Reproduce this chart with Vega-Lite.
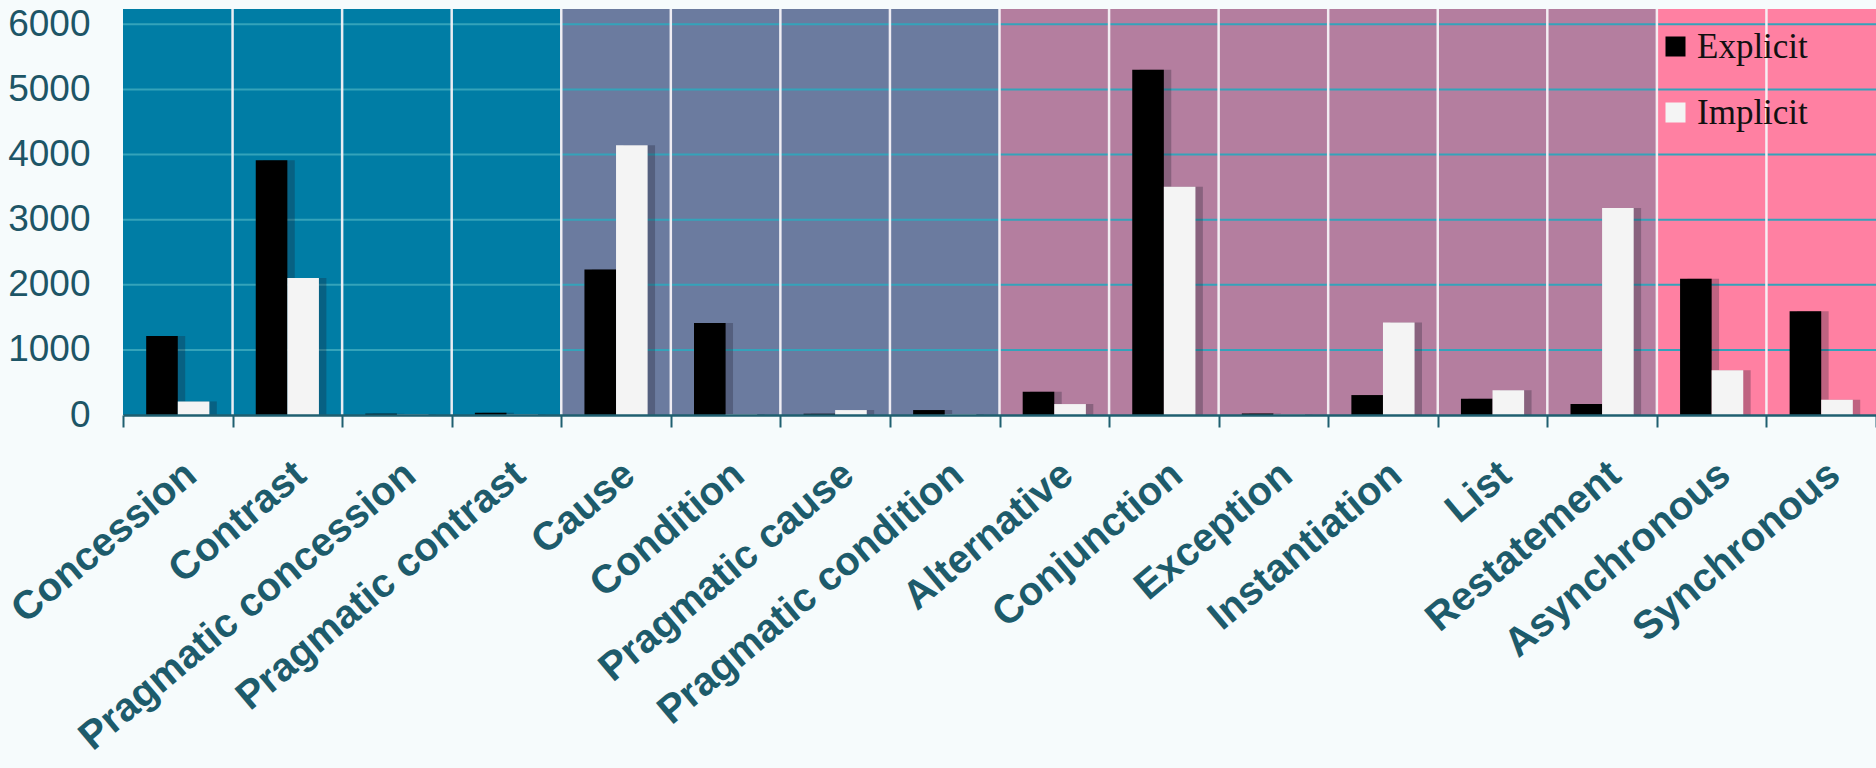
{
  "$schema": "https://vega.github.io/schema/vega-lite/v6.json",
  "autosize": "none",
  "width": 1753,
  "height": 406,
  "padding": {"left": 123, "top": 9, "right": 0, "bottom": 353},
  "background": "#F6FBFC",
  "config": {"view": {"stroke": null}},
  "resolve": {"scale": {"xOffset": "independent"}},
  "datasets": {
    "cats": [
      {"cat": "Concession", "group": "Comparison"},
      {"cat": "Contrast", "group": "Comparison"},
      {"cat": "Pragmatic concession", "group": "Comparison"},
      {"cat": "Pragmatic contrast", "group": "Comparison"},
      {"cat": "Cause", "group": "Contingency"},
      {"cat": "Condition", "group": "Contingency"},
      {"cat": "Pragmatic cause", "group": "Contingency"},
      {"cat": "Pragmatic condition", "group": "Contingency"},
      {"cat": "Alternative", "group": "Expansion"},
      {"cat": "Conjunction", "group": "Expansion"},
      {"cat": "Exception", "group": "Expansion"},
      {"cat": "Instantiation", "group": "Expansion"},
      {"cat": "List", "group": "Expansion"},
      {"cat": "Restatement", "group": "Expansion"},
      {"cat": "Asynchronous", "group": "Temporal"},
      {"cat": "Synchronous", "group": "Temporal"}
    ],
    "grid": [{"v": 1000}, {"v": 2000}, {"v": 3000}, {"v": 4000}, {"v": 5000}, {"v": 6000}],
    "counts": [
      {"cat": "Concession", "type": "Explicit", "value": 1212},
      {"cat": "Concession", "type": "Implicit", "value": 209},
      {"cat": "Contrast", "type": "Explicit", "value": 3912},
      {"cat": "Contrast", "type": "Implicit", "value": 2104},
      {"cat": "Pragmatic concession", "type": "Explicit", "value": 20},
      {"cat": "Pragmatic concession", "type": "Implicit", "value": 8},
      {"cat": "Pragmatic contrast", "type": "Explicit", "value": 35},
      {"cat": "Pragmatic contrast", "type": "Implicit", "value": 8},
      {"cat": "Cause", "type": "Explicit", "value": 2236},
      {"cat": "Cause", "type": "Implicit", "value": 4142},
      {"cat": "Condition", "type": "Explicit", "value": 1411},
      {"cat": "Condition", "type": "Implicit", "value": 12},
      {"cat": "Pragmatic cause", "type": "Explicit", "value": 20},
      {"cat": "Pragmatic cause", "type": "Implicit", "value": 76},
      {"cat": "Pragmatic condition", "type": "Explicit", "value": 76},
      {"cat": "Pragmatic condition", "type": "Implicit", "value": 10},
      {"cat": "Alternative", "type": "Explicit", "value": 357},
      {"cat": "Alternative", "type": "Implicit", "value": 168},
      {"cat": "Conjunction", "type": "Explicit", "value": 5303},
      {"cat": "Conjunction", "type": "Implicit", "value": 3505},
      {"cat": "Exception", "type": "Explicit", "value": 22},
      {"cat": "Exception", "type": "Implicit", "value": 8},
      {"cat": "Instantiation", "type": "Explicit", "value": 306},
      {"cat": "Instantiation", "type": "Implicit", "value": 1421},
      {"cat": "List", "type": "Explicit", "value": 250},
      {"cat": "List", "type": "Implicit", "value": 382},
      {"cat": "Restatement", "type": "Explicit", "value": 168},
      {"cat": "Restatement", "type": "Implicit", "value": 3179},
      {"cat": "Asynchronous", "type": "Explicit", "value": 2094},
      {"cat": "Asynchronous", "type": "Implicit", "value": 688},
      {"cat": "Synchronous", "type": "Explicit", "value": 1595},
      {"cat": "Synchronous", "type": "Implicit", "value": 234}
    ]
  },
  "layer": [
    {
      "data": {"name": "cats"},
      "mark": {"type": "rect"},
      "encoding": {
        "x": {"field": "cat", "type": "nominal", "sort": null,
              "scale": {"domain": ["Concession","Contrast","Pragmatic concession","Pragmatic contrast","Cause","Condition","Pragmatic cause","Pragmatic condition","Alternative","Conjunction","Exception","Instantiation","List","Restatement","Asynchronous","Synchronous"], "paddingInner": 0, "paddingOuter": 0}},
        "fill": {"field": "group", "type": "nominal", "legend": null,
                 "scale": {"domain": ["Comparison","Contingency","Expansion","Temporal"], "range": ["#007DA5","#6B7B9F","#B47E9F","#FF80A2"]}}
      }
    },
    {
      "data": {"name": "grid"},
      "mark": {"type": "rule", "color": "#34A3BA", "strokeWidth": 2},
      "encoding": {
        "y": {"field": "v", "type": "quantitative"}
      }
    },
    {
      "data": {"name": "cats"},
      "transform": [{"filter": "datum.cat != 'Concession'"}],
      "mark": {"type": "rule", "color": "#F5F2F7", "strokeWidth": 2.5, "opacity": 0.95},
      "encoding": {
        "x": {"field": "cat", "type": "nominal", "bandPosition": 0}
      }
    },
    {
      "data": {"name": "counts"},
      "mark": {"type": "bar", "color": "#1A1A2A", "opacity": 0.28},
      "encoding": {
        "x": {"field": "cat", "type": "nominal"},
        "xOffset": {"field": "type", "type": "nominal",
                    "scale": {"domain": ["Explicit","Implicit"], "paddingInner": 0, "paddingOuter": 0.734, "align": 0.66}},
        "y": {"field": "value", "type": "quantitative"}
      }
    },
    {
      "data": {"name": "counts"},
      "mark": {"type": "bar"},
      "encoding": {
        "x": {"field": "cat", "type": "nominal",
              "axis": {"title": null, "labelAngle": -40, "labelAlign": "right", "labelBaseline": "middle",
                       "labelFont": "Liberation Sans", "labelFontSize": 40, "labelFontWeight": "bold",
                       "labelColor": "#1D5B6B", "labelLimit": 1000, "labelOverlap": false,
                       "labelPadding": 42, "labelOffset": 13,
                       "tickBand": "extent", "tickSize": 12, "tickColor": "#1F5F70", "tickWidth": 2,
                       "domainColor": "#1F5F70", "domainWidth": 2.5, "grid": false, "zindex": 1}},
        "xOffset": {"field": "type", "type": "nominal",
                    "scale": {"domain": ["Explicit","Implicit"], "paddingInner": 0, "paddingOuter": 0.734}},
        "y": {"field": "value", "type": "quantitative",
              "scale": {"domain": [0, 6235], "nice": false},
              "axis": {"title": null, "values": [0,1000,2000,3000,4000,5000,6000], "format": "d", "grid": false, "domain": false, "ticks": false,
                       "labelFont": "Liberation Sans", "labelFontSize": 37, "labelColor": "#1D5566", "labelPadding": 33}},
        "color": {"field": "type", "type": "nominal",
                  "scale": {"domain": ["Explicit","Implicit"], "range": ["#000000","#F4F4F4"]},
                  "legend": {"title": null, "orient": "none", "legendX": 1535, "legendY": 20,
                             "symbolType": "square", "symbolSize": 400, "symbolStrokeWidth": 0,
                             "labelFont": "Liberation Serif", "labelFontSize": 35, "labelColor": "#111111",
                             "rowPadding": 30, "padding": 0, "labelOffset": 4}}
      }
    }
  ]
}
